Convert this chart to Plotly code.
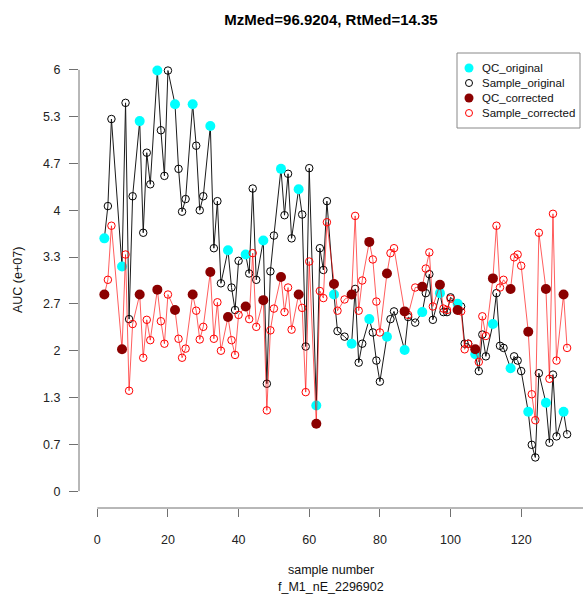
import plotly.graph_objects as go
import pandas as pd

# ---- data (values in units of 1e7) ----
qc_x = [2, 7, 12, 17, 22, 27, 32, 37, 42, 47, 52, 57, 62, 67, 72, 77, 82, 87, 92, 97,
        102, 107, 112, 117, 122, 127, 132]
qc_original = [3.60, 3.20, 5.27, 5.99, 5.51, 5.51, 5.20, 3.43, 3.37, 3.57, 4.59, 4.30, 1.22,
               2.80, 2.10, 2.45, 2.20, 2.01, 2.55, 2.82, 2.67, 1.95, 2.38, 1.75, 1.13, 1.26, 1.13]
qc_corrected = [2.80, 2.02, 2.80, 2.87, 2.58, 2.80, 3.12, 2.48, 2.63, 2.72, 3.05, 2.80, 0.96,
                2.95, 2.80, 3.55, 3.10, 2.56, 2.91, 2.94, 2.58, 2.02, 3.03, 2.88, 2.27, 2.88, 2.80]

sample_x = [3, 4, 8, 9, 10, 13, 14, 15, 18, 19, 20, 23, 24, 25, 28, 29, 30, 33, 34, 35,
            38, 39, 40, 43, 44, 45, 48, 49, 50, 53, 54, 55, 58, 59, 60, 63, 64, 65,
            68, 70, 73, 74, 75, 78, 79, 80, 83, 84, 88, 90, 93, 94, 95, 98, 99, 100,
            103, 104, 105, 108, 109, 110, 113, 114, 115, 118, 119, 120, 123, 124, 125,
            128, 129, 130, 133]
sample_original = [4.06, 5.30, 5.53, 2.45, 4.20, 3.68, 4.82, 4.37, 5.14, 4.49, 5.99,
                   4.59, 3.98, 4.16, 4.92, 4.00, 4.20, 3.46, 4.13, 2.96, 2.90, 2.58, 3.28,
                   3.10, 4.31, 3.01, 1.53, 3.13, 3.64, 3.93, 4.52, 3.60, 3.94, 2.06, 4.60,
                   3.46, 3.15, 4.13, 2.28, 2.20, 2.88, 1.83, 2.10, 2.26, 1.86, 1.56,
                   2.45, 2.56, 2.48, 2.40, 2.82, 3.09, 2.44, 2.55, 2.55, 2.76,
                   2.63, 2.10, 2.10, 1.71, 2.23, 1.92, 2.82, 2.07, 2.04, 1.92, 1.86, 1.71,
                   0.66, 0.48, 1.68, 0.69, 1.66, 0.78, 0.81]
sample_corrected = [3.01, 3.78, 3.37, 1.43, 2.38, 1.90, 2.44, 2.15, 2.42, 2.10, 2.80,
                    2.17, 1.90, 2.03, 2.57, 2.16, 2.34, 2.17, 2.69, 2.00, 2.15, 1.94, 2.51,
                    2.45, 3.39, 2.34, 1.15, 2.29, 2.60, 2.55, 2.90, 2.30, 2.61, 1.41, 3.27,
                    2.85, 2.75, 3.83, 2.57, 2.73, 3.92, 2.57, 3.00, 3.30, 2.70, 2.26,
                    3.39, 3.46, 2.51, 2.90, 3.17, 3.40, 2.63, 2.60, 2.58, 2.74,
                    2.56, 2.02, 2.10, 1.84, 2.49, 2.21, 3.78, 2.90, 3.01, 3.33, 3.37, 3.21,
                    1.38, 1.01, 3.68, 1.60, 3.95, 1.86, 2.04]

x_ticks = [0, 20, 40, 60, 80, 100, 120]
y_tickvals = [i * 2 / 3 for i in range(10)]
y_ticktext = ["0", "0.7", "1.3", "2", "2.7", "3.3", "4", "4.7", "5.3", "6"]

title_text = "MzMed=96.9204, RtMed=14.35"
legend_names = ["QC_original", "Sample_original", "QC_corrected", "Sample_corrected"]

assert len(sample_x) == len(sample_original) == len(sample_corrected)

# combined ordered series (lines pass through QC and samples)
allpts = pd.concat([
    pd.DataFrame({"x": qc_x, "orig": qc_original, "corr": qc_corrected}),
    pd.DataFrame({"x": sample_x, "orig": sample_original, "corr": sample_corrected}),
]).sort_values("x")

FONT = "Liberation Sans, Arial, sans-serif"
AX = "#707070"
CYAN = "#00FFFF"
DARKRED = "#8B0000"
RED = "#FF0000"

fig = go.Figure()
fig.add_trace(go.Scatter(x=allpts["x"], y=allpts["orig"], mode="lines",
                         line=dict(color="#1a1a1a", width=1), showlegend=False, hoverinfo="skip"))
fig.add_trace(go.Scatter(x=sample_x, y=sample_original, mode="markers", name=legend_names[1],
                         marker=dict(symbol="circle-open", size=7.5, color="black",
                                     line=dict(width=1, color="black")), showlegend=False))
fig.add_trace(go.Scatter(x=qc_x, y=qc_original, mode="markers", name=legend_names[0],
                         marker=dict(symbol="circle", size=10, color=CYAN), showlegend=False))
fig.add_trace(go.Scatter(x=allpts["x"], y=allpts["corr"], mode="lines",
                         line=dict(color="rgba(255,0,0,0.8)", width=0.8), showlegend=False,
                         hoverinfo="skip"))
fig.add_trace(go.Scatter(x=sample_x, y=sample_corrected, mode="markers", name=legend_names[3],
                         marker=dict(symbol="circle-open", size=7.5, color=RED,
                                     line=dict(width=1, color=RED)), showlegend=False))
fig.add_trace(go.Scatter(x=qc_x, y=qc_corrected, mode="markers", name=legend_names[2],
                         marker=dict(symbol="circle", size=10, color=DARKRED), showlegend=False))

L, R, T, B = 79, 0, 53, 88
W, H = 583, 596
pw, ph = W - L - R, H - T - B

def px2paper(px, py):
    return (px - L) / pw, (H - B - py) / ph

shapes = []
# R-style axis lines
shapes.append(dict(type="line", xref="paper", yref="y", x0=0, x1=0, y0=0, y1=6,
                   line=dict(color=AX, width=1)))
shapes.append(dict(type="line", xref="x", yref="paper", x0=0, x1=137.5, y0=0, y1=0,
                   line=dict(color=AX, width=1)))
# legend box
bx0, by0 = px2paper(457, 128)
bx1, by1 = px2paper(580, 53)
shapes.append(dict(type="rect", xref="paper", yref="paper", x0=bx0, x1=bx1, y0=by0, y1=by1,
                   line=dict(color="#888888", width=1), fillcolor="rgba(0,0,0,0)"))

annotations = []
leg_styles = [("fill", CYAN, 9), ("open", "black", 7), ("fill", DARKRED, 9), ("open", RED, 7)]
for i, (name, (kind, col, d)) in enumerate(zip(legend_names, leg_styles)):
    py = 68 + 15 * i
    mx, my = px2paper(469, py)
    r = d / 2
    shapes.append(dict(type="circle", xref="paper", yref="paper", xsizemode="pixel",
                       ysizemode="pixel", xanchor=mx, yanchor=my, x0=-r, x1=r, y0=-r, y1=r,
                       fillcolor=col if kind == "fill" else "white",
                       line=dict(color=col, width=0 if kind == "fill" else 1)))
    tx, ty = px2paper(480, py)
    annotations.append(dict(text=name, xref="paper", yref="paper", x=tx, y=ty,
                            xanchor="left", yanchor="middle", showarrow=False,
                            font=dict(family=FONT, size=11.5, color="#111")))

# axis titles
xa, ya = px2paper(331, 570)
annotations.append(dict(text="sample number", xref="paper", yref="paper", x=0.5, y=ya,
                        xanchor="center", yanchor="middle", showarrow=False,
                        font=dict(family=FONT, size=12.5, color="#111")))
xa, ya = px2paper(331, 587)
annotations.append(dict(text="f_M1_nE_2296902", xref="paper", yref="paper", x=0.5, y=ya,
                        xanchor="center", yanchor="middle", showarrow=False,
                        font=dict(family=FONT, size=12.5, color="#111")))
xa, ya = px2paper(18, 280)
annotations.append(dict(text="AUC (e+07)", xref="paper", yref="paper", x=xa, y=ya,
                        xanchor="center", yanchor="middle", textangle=-90, showarrow=False,
                        font=dict(family=FONT, size=12.5, color="#111")))

fig.update_layout(
    width=W, height=H,
    margin=dict(l=L, r=R, t=T, b=B, pad=0),
    paper_bgcolor="white", plot_bgcolor="white",
    title=dict(text=title_text, x=0.5, xref="paper", y=1 - 20 / H, yref="container",
               xanchor="center", yanchor="middle",
               font=dict(family=FONT, size=15, color="black", weight="bold")),
    xaxis=dict(range=[-5.18, 137.5], showgrid=False, zeroline=False, showline=False,
               tickmode="array", tickvals=x_ticks, ticks="outside", ticklen=8,
               tickcolor=AX, tickwidth=1, ticklabelstandoff=12,
               tickfont=dict(family=FONT, size=12.5, color="#222")),
    yaxis=dict(range=[-0.24, 6.24], showgrid=False, zeroline=False, showline=False,
               tickmode="array", tickvals=y_tickvals, ticktext=y_ticktext,
               ticks="outside", ticklen=9, tickcolor=AX, tickwidth=1, ticklabelstandoff=6,
               tickfont=dict(family=FONT, size=12.5, color="#222")),
    shapes=shapes, annotations=annotations, showlegend=False,
)

fig.write_html("out.html")
